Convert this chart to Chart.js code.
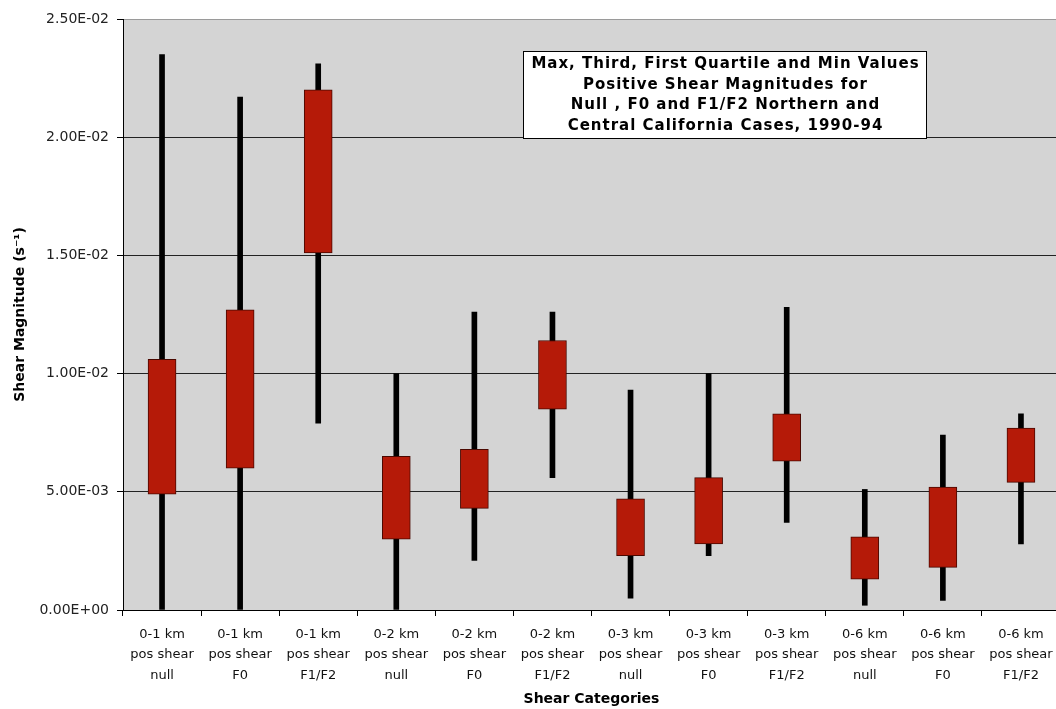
<!DOCTYPE html>
<html>
<head>
<meta charset="utf-8">
<script src="https://cdn.jsdelivr.net/npm/chart.js@4.4.1/dist/chart.umd.min.js"></script>
<style>
    html, body { margin: 0; padding: 0; background: #fff; overflow: hidden; }
</style>
</head>
<body>
<canvas id="chart" width="1062" height="709"></canvas>
<script>
// shear categories (3 label lines each)
const categories = [
    ["0-1 km", "pos shear", "null"],
    ["0-1 km", "pos shear", "F0"],
    ["0-1 km", "pos shear", "F1/F2"],
    ["0-2 km", "pos shear", "null"],
    ["0-2 km", "pos shear", "F0"],
    ["0-2 km", "pos shear", "F1/F2"],
    ["0-3 km", "pos shear", "null"],
    ["0-3 km", "pos shear", "F0"],
    ["0-3 km", "pos shear", "F1/F2"],
    ["0-6 km", "pos shear", "null"],
    ["0-6 km", "pos shear", "F0"],
    ["0-6 km", "pos shear", "F1/F2"]
];

// values (s^-1)
const maxValues    = [0.0235, 0.0217, 0.0231, 0.0100, 0.0126, 0.0126, 0.0093, 0.0100, 0.0128, 0.0051, 0.0074, 0.0083];
const thirdQuart   = [0.0106, 0.0127, 0.0220, 0.0065, 0.0068, 0.0114, 0.0047, 0.0056, 0.0083, 0.0031, 0.0052, 0.0077];
const firstQuart   = [0.0049, 0.0060, 0.0151, 0.0030, 0.0043, 0.0085, 0.0023, 0.0028, 0.0063, 0.0013, 0.0018, 0.0054];
const minValues    = [0.0000, 0.0000, 0.0079, 0.0000, 0.0021, 0.0056, 0.0005, 0.0023, 0.0037, 0.0002, 0.0004, 0.0028];

const yTickLabels = ["0.00E+00", "5.00E-03", "1.00E-02", "1.50E-02", "2.00E-02", "2.50E-02"];

const noteLines = [
    "Max, Third, First Quartile and Min Values",
    "Positive Shear Magnitudes for",
    "Null , F0 and F1/F2 Northern and",
    "Central California Cases, 1990-94"
];

const boxes = categories.map((c, i) => [firstQuart[i], thirdQuart[i]]);
const whiskers = categories.map((c, i) => [minValues[i], maxValues[i]]);

const plotBg = {
    id: "plotBg",
    beforeDraw(chart) {
        const { ctx, chartArea: a } = chart;
        ctx.save();
        ctx.fillStyle = "#d4d4d4";
        ctx.fillRect(a.left, a.top, a.right - a.left, a.bottom - a.top);
        ctx.restore();
    }
};

const noteBox = {
    id: "noteBox",
    afterDraw(chart) {
        const ctx = chart.ctx;
        const x = 523.5, y = 51.5, w = 403, h = 87;
        ctx.save();
        ctx.fillStyle = "#fff";
        ctx.fillRect(x, y, w, h);
        ctx.strokeStyle = "#000";
        ctx.lineWidth = 1;
        ctx.strokeRect(x, y, w, h);
        ctx.fillStyle = "#000";
        ctx.font = "bold 15px 'DejaVu Sans'";
        ctx.letterSpacing = "1px";
        ctx.textAlign = "center";
        ctx.textBaseline = "middle";
        noteLines.forEach((t, i) => ctx.fillText(t, x + w / 2 + 0.5, 64 + i * 20.8));
        ctx.restore();
    }
};

const ctx = document.getElementById("chart");

new Chart(ctx, {
    type: "bar",
    data: {
        labels: categories,
        datasets: [
            {
                label: "Quartiles",
                data: boxes,
                grouped: false,
                barThickness: 28,
                backgroundColor: "#b51a08",
                borderColor: "#4a0800",
                borderWidth: 1,
                borderSkipped: false
            },
            {
                label: "Min-Max",
                data: whiskers,
                grouped: false,
                barThickness: 5,
                backgroundColor: "#000",
                borderWidth: 0
            }
        ]
    },
    options: {
        responsive: false,
        animation: false,
        devicePixelRatio: 1,
        layout: { padding: { top: 19, right: 2, left: 0, bottom: 0 } },
        plugins: {
            legend: { display: false },
            tooltip: { enabled: false }
        },
        scales: {
            x: {
                offset: true,
                grid: {
                    offset: true,
                    drawOnChartArea: false,
                    drawTicks: true,
                    tickLength: 6,
                    tickColor: "#000"
                },
                border: { color: "#000", width: 1 },
                ticks: {
                    color: "#111",
                    padding: 8,
                    maxRotation: 0,
                    autoSkip: false,
                    font: { family: "'DejaVu Sans'", size: 13, lineHeight: "20.5px" }
                },
                title: {
                    display: true,
                    text: "Shear Categories",
                    color: "#000",
                    font: { family: "'DejaVu Sans'", size: 14, weight: "bold" },
                    padding: { top: 4, bottom: 1 }
                },
                afterFit(scale) { scale.height = 99; }
            },
            y: {
                min: 0,
                max: 0.025,
                ticks: {
                    stepSize: 0.005,
                    color: "#222",
                    padding: 8,
                    font: { family: "'DejaVu Sans'", size: 14 },
                    callback: (v, i) => yTickLabels[i]
                },
                grid: {
                    color: c => (c.tick && c.tick.value >= 0.025 ? "#9a9a9a" : "#222"),
                    tickColor: "#000",
                    tickLength: 6
                },
                border: { color: "#000", width: 1 },
                title: {
                    display: true,
                    text: "Shear Magnitude (s\u207B\u00B9)",
                    color: "#000",
                    font: { family: "'DejaVu Sans'", size: 14, weight: "bold" },
                    padding: { top: 12, bottom: 0 }
                },
                afterFit(scale) { scale.width = 123; }
            }
        }
    },
    plugins: [plotBg, noteBox]
});
</script>
</body>
</html>
